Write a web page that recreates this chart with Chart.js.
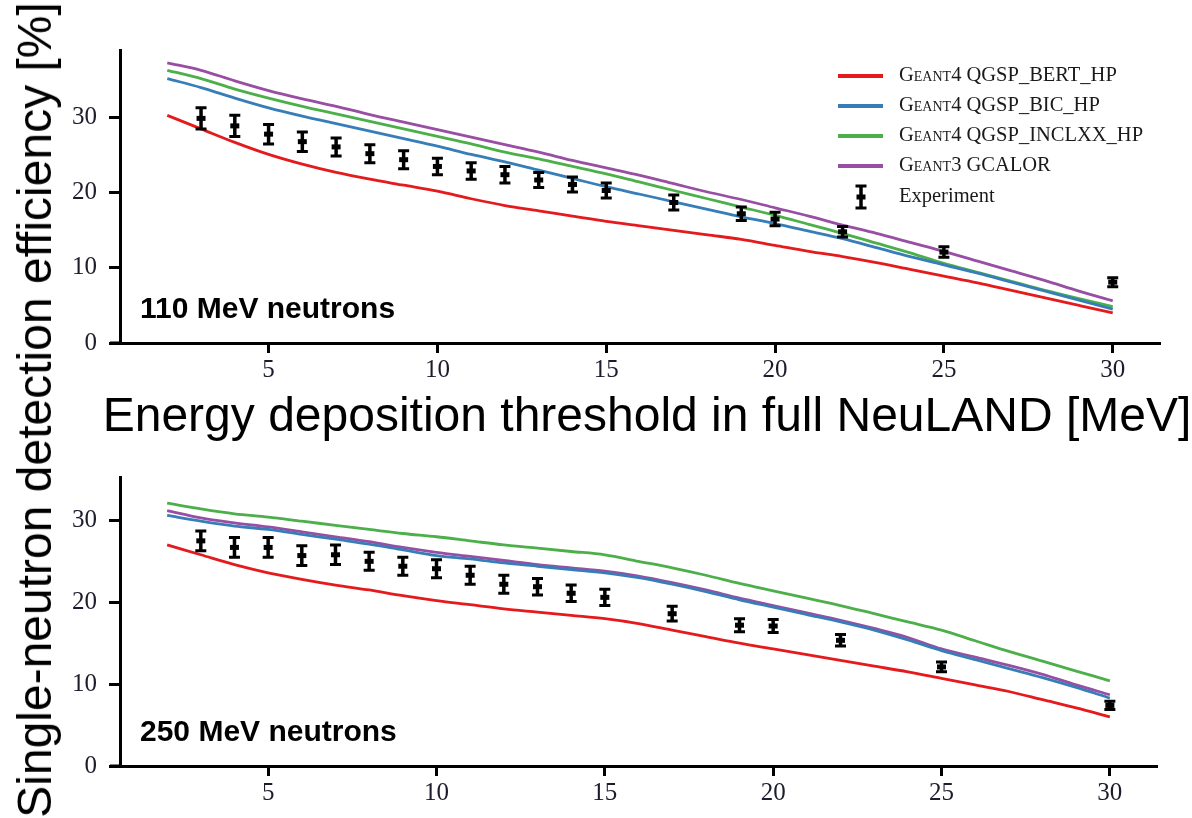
<!DOCTYPE html>
<html><head><meta charset="utf-8">
<script src="https://cdn.jsdelivr.net/npm/chart.js@4"></script>
<style>
html,body{margin:0;padding:0;background:#fff;width:1192px;height:818px;overflow:hidden;}
#top{position:absolute;left:0;top:0;width:1192px;height:450px;}
#bot{position:absolute;left:0;top:450px;width:1192px;height:368px;}
#ytitle{position:absolute;left:35px;top:410px;transform:translate(-50%,-50%) rotate(-90deg);font:48px 'Liberation Sans',Arial,sans-serif;white-space:nowrap;line-height:1;color:#000;}
</style></head>
<body>
<div id="top"><canvas id="c1"></canvas></div>
<div id="bot"><canvas id="c2"></canvas></div>
<div id="ytitle">Single-neutron detection efficiency [%]</div>
<script>
// ---- data ----
const thresholds = [2,3,4,5,6,7,8,9,10,11,12,13,14,15,16,17,18,19,20,21,22,23,24,25,26,27,28,29,30];
const expThresholds = [3,4,5,6,7,8,9,10,11,12,13,14,15,17,19,20,22,25,30];
const xTicks = [5,10,15,20,25,30];
const yTicks = [0,10,20,30];
const seriesNames = ['Geant4 QGSP_BERT_HP','Geant4 QGSP_BIC_HP','Geant4 QGSP_INCLXX_HP','Geant3 GCALOR','Experiment'];
const xTitle = 'Energy deposition threshold in full NeuLAND [MeV]';

// 110 MeV
const bert110 = [30.3,28.5,26.7,25.1,23.8,22.7,21.8,21.0,20.2,19.2,18.3,17.6,16.9,16.2,15.6,15.0,14.4,13.8,13.0,12.2,11.5,10.7,9.8,8.9,8.0,7.0,6.0,5.0,4.0];
const bic110 = [35.2,34.0,32.6,31.3,30.2,29.2,28.2,27.2,26.2,25.1,24.1,23.0,21.9,20.8,19.8,18.8,17.8,16.8,15.9,14.9,13.9,12.7,11.5,10.4,9.3,8.1,6.9,5.7,4.5];
const incl110 = [36.3,35.2,33.8,32.6,31.5,30.5,29.5,28.5,27.5,26.5,25.4,24.5,23.5,22.5,21.4,20.3,19.2,18.1,17.0,15.8,14.6,13.3,12.0,10.6,9.4,8.2,7.0,5.9,4.85];
const gcal110 = [37.3,36.3,34.9,33.6,32.5,31.5,30.4,29.4,28.4,27.4,26.4,25.4,24.3,23.3,22.3,21.2,20.1,19.1,18.0,16.9,15.7,14.6,13.4,12.2,10.9,9.6,8.3,6.9,5.6];
const exp110 = [29.9,28.9,27.8,26.8,26.1,25.2,24.4,23.5,22.9,22.4,21.7,21.1,20.3,18.7,17.2,16.5,14.8,12.1,8.1];
const err110 = [1.4,1.4,1.3,1.3,1.2,1.2,1.2,1.1,1.1,1.1,1.0,1.0,1.0,1.0,0.9,0.9,0.7,0.7,0.6];

// 250 MeV
const bert250 = [27.0,25.8,24.6,23.6,22.8,22.1,21.5,20.8,20.2,19.7,19.2,18.8,18.4,18.0,17.4,16.6,15.8,15.0,14.3,13.6,12.9,12.2,11.5,10.7,9.9,9.1,8.1,7.1,6.0];
const bic250 = [30.6,29.9,29.3,28.9,28.3,27.7,27.1,26.4,25.7,25.3,24.8,24.4,24.0,23.6,23.0,22.2,21.3,20.3,19.4,18.5,17.6,16.6,15.4,14.1,13.0,11.9,10.8,9.6,8.3];
const incl250 = [32.1,31.4,30.8,30.4,29.9,29.4,28.9,28.4,28.0,27.5,27.0,26.6,26.2,25.8,25.0,24.2,23.3,22.3,21.4,20.5,19.6,18.6,17.6,16.6,15.3,14.0,12.8,11.6,10.4];
const gcal250 = [31.2,30.3,29.7,29.2,28.6,28.0,27.4,26.7,26.1,25.6,25.1,24.6,24.2,23.8,23.2,22.4,21.5,20.5,19.6,18.7,17.8,16.8,15.7,14.3,13.3,12.3,11.2,9.9,8.7];
const exp250 = [27.5,26.7,26.7,25.7,25.8,25.0,24.4,24.1,23.3,22.2,21.9,21.1,20.6,18.6,17.2,17.1,15.35,12.1,7.4];
const err250 = [1.2,1.2,1.2,1.2,1.2,1.1,1.1,1.1,1.1,1.1,1.0,1.0,1.0,0.9,0.8,0.8,0.7,0.6,0.5];

const colors = ['#e41a1c','#377eb8','#4daf4a','#984ea3'];

function pts(xs, ys){ return xs.map((x,i)=>({x:x, y:ys[i]})); }

function makeDatasets(b, bic, inc, gc, ex, er){
  const lines = [b,bic,inc,gc].map((arr,k)=>({
    label: seriesNames[k], data: pts(thresholds, arr), borderColor: colors[k],
    borderWidth: 2.8, pointRadius: 0, fill:false, showLine:true,
    cubicInterpolationMode:'monotone'
  }));
  lines.push({label: seriesNames[4], data: pts(expThresholds, ex), errors: er,
    showLine:false, pointRadius:0, borderColor:'#000', backgroundColor:'#000'});
  return lines;
}

function drawErrBar(ctx, px, yt, yb, yc){
  ctx.lineWidth = 3.5;
  ctx.beginPath(); ctx.moveTo(px, yt); ctx.lineTo(px, yb); ctx.stroke();
  ctx.lineWidth = 3;
  ctx.beginPath();
  ctx.moveTo(px-5.5, yt); ctx.lineTo(px+5.5, yt);
  ctx.moveTo(px-5.5, yb); ctx.lineTo(px+5.5, yb);
  ctx.stroke();
  ctx.fillRect(px-4.5, yc-2.5, 9, 5);
}

const errorBarPlugin = {
  id:'errorBars',
  afterDatasetsDraw(chart){
    const ds = chart.data.datasets[4];
    const xs = chart.scales.x, ys = chart.scales.y;
    const ctx = chart.ctx;
    ctx.save();
    ctx.strokeStyle = '#000'; ctx.fillStyle = '#000';
    ds.data.forEach((p,i)=>{
      const e = ds.errors[i];
      drawErrBar(ctx, xs.getPixelForValue(p.x), ys.getPixelForValue(p.y + e),
        ys.getPixelForValue(p.y - e), ys.getPixelForValue(p.y));
    });
    ctx.restore();
  }
};

const axisExtPlugin = {
  id:'axisExt',
  afterDraw(chart){
    const ctx = chart.ctx, a = chart.chartArea;
    ctx.save();
    ctx.strokeStyle = '#000'; ctx.lineWidth = 3;
    ctx.beginPath(); ctx.moveTo(a.left-10, a.bottom); ctx.lineTo(a.left, a.bottom); ctx.stroke();
    ctx.restore();
    const opts = chart.options.plugins.panelLabel;
    if (opts && opts.text){
      ctx.save();
      ctx.font = "bold 30px 'Liberation Sans', Arial, sans-serif";
      ctx.fillStyle = '#000'; ctx.textBaseline = 'middle'; ctx.textAlign = 'left';
      ctx.fillText(opts.text, a.left + 20, a.bottom - 33);
      ctx.restore();
    }
    if (opts && opts.xTitle){
      ctx.save();
      ctx.font = "48px 'Liberation Sans', Arial, sans-serif";
      ctx.fillStyle = '#000'; ctx.textBaseline = 'middle'; ctx.textAlign = 'center';
      ctx.fillText(opts.xTitle, 647, 418);
      ctx.restore();
    }
  }
};

const legendPlugin = {
  id:'customLegend',
  afterDraw(chart){
    if (!chart.options.plugins.customLegend || !chart.options.plugins.customLegend.show) return;
    const ctx = chart.ctx;
    const rows = [76,106,136,166,197];
    ctx.save();
    ctx.textBaseline = 'middle'; ctx.textAlign = 'left'; ctx.fillStyle = '#1a1a1a';
    for (let k=0;k<4;k++){
      ctx.strokeStyle = colors[k]; ctx.lineWidth = 4;
      ctx.beginPath(); ctx.moveTo(838, rows[k]); ctx.lineTo(883, rows[k]); ctx.stroke();
      ctx.font = "small-caps 20.5px 'Liberation Serif', serif";
      ctx.fillText(seriesNames[k], 899, rows[k]);
    }
    const y = rows[4], x = 861;
    ctx.strokeStyle = '#000'; ctx.fillStyle = '#000';
    drawErrBar(ctx, x, y-11, y+11, y);
    ctx.fillStyle = '#1a1a1a';
    ctx.font = "20.5px 'Liberation Serif', serif";
    ctx.fillText(seriesNames[4], 899, y);
    ctx.restore();
  }
};

function makeOptions(yMax, padTop, padRight, xHeight, showTitle, label, showLegend){
  const tickFont = {family:"'Liberation Serif', serif", size:25};
  return {
    responsive:true, maintainAspectRatio:false, animation:false,
    layout:{padding:{top:padTop, right:padRight, left:0, bottom:0}},
    plugins:{legend:{display:false}, tooltip:{enabled:false},
      panelLabel:{text:label, xTitle: showTitle ? xTitle : null}, customLegend:{show:showLegend}},
    scales:{
      x:{type:'linear', min:0.6, max:31.4,
        afterBuildTicks: s => { s.ticks = xTicks.map(v=>({value:v})); },
        afterFit: s => { s.height = xHeight; },
        grid:{drawOnChartArea:false, drawTicks:true, tickLength:10, tickWidth:3, tickColor:'#000'},
        border:{display:true, color:'#000', width:3},
        ticks:{font:tickFont, color:'#1c1c2c', padding:2, maxRotation:0, autoSkip:false},
        title:{display:false}
      },
      y:{type:'linear', min:0, max:yMax,
        afterBuildTicks: s => { s.ticks = yTicks.map(v=>({value:v})); },
        afterFit: s => { s.width = 120; },
        grid:{drawOnChartArea:false, drawTicks:true, tickLength:11, tickWidth:3, tickColor:'#000'},
        border:{display:true, color:'#000', width:3},
        ticks:{font:tickFont, color:'#1c1c2c', padding:12}
      }
    }
  };
}

new Chart(document.getElementById('c1'), {
  type:'scatter',
  data:{datasets: makeDatasets(bert110, bic110, incl110, gcal110, exp110, err110)},
  options: makeOptions(39, 50, 32, 107, true, '110 MeV neutrons', true),
  plugins:[errorBarPlugin, axisExtPlugin, legendPlugin]
});
new Chart(document.getElementById('c2'), {
  type:'scatter',
  data:{datasets: makeDatasets(bert250, bic250, incl250, gcal250, exp250, err250)},
  options: makeOptions(35.3, 23, 35, 52, false, '250 MeV neutrons', false),
  plugins:[errorBarPlugin, axisExtPlugin, legendPlugin]
});
</script>
</body></html>
